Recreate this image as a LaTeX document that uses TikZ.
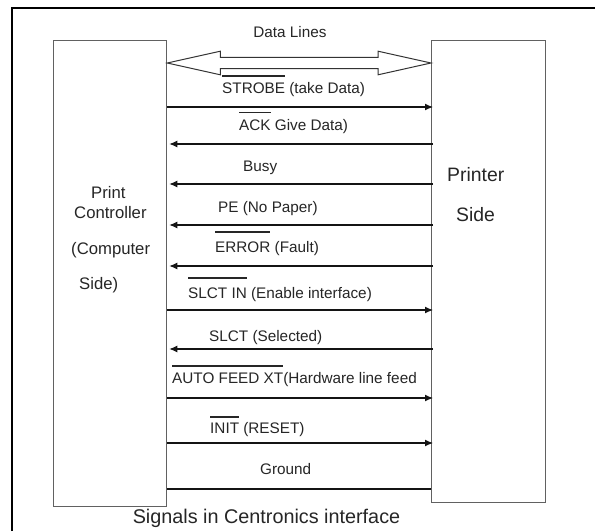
\documentclass[tikz,border=0pt]{standalone}
\usepackage{fontspec}
\setmainfont{Liberation Sans}
\usetikzlibrary{arrows.meta}
% overlined (active-low) signal name; optional argument: height of the bar above the baseline
\newcommand{\ovl}[2][17pt]{\leavevmode\setbox0\hbox{#2}\rlap{\rule[#1]{\wd0}{1.3pt}}\box0\relax}
\begin{document}
\begin{tikzpicture}[x=1pt,y=-1pt,
  every node/.style={inner sep=0pt, text=black!85},
  sidebox/.style={draw=black!62, line width=1.3pt, fill=white, anchor=north west},
  sig/.style={draw=black!92, line width=1.1pt},
  fwd/.style={sig, -{Latex[length=8pt,width=7pt]}, shorten >=-2pt},
  bwd/.style={sig, -{Latex[length=8pt,width=7pt]}, shorten >=2pt, shorten <=-2pt},
  lbl/.style={anchor=base west, font=\fontsize{15.3}{18}\selectfont},
  big/.style={anchor=base west, font=\fontsize{16.7}{20}\selectfont},
  huge/.style={anchor=base west, font=\fontsize{19.4}{23}\selectfont}]
\useasboundingbox (0,0) rectangle (595,531);
\fill[white] (0,0) rectangle (595,531);

% outer frame (top and left edges)
\draw[line width=2.6pt, black] (12,531) -- (12,8) -- (595,8);

% the two sides of the interface
\node[sidebox, minimum width=113pt, minimum height=466pt] (pc) at (53,40) {};
\node[sidebox, minimum width=114pt, minimum height=462pt] (ps) at (431,40) {};

\node[big] at (91,198) {Print};
\node[big] at (74,218) {Controller};
\node[big] at (71,254) {(Computer};
\node[big] at (79,289) {Side)};
\node[huge] at (447,181) {Printer};
\node[huge] at (456,221) {Side};

% bidirectional data bus (hollow double-headed arrow)
\coordinate (dl) at (pc.east |- 0,63);
\coordinate (dr) at (ps.west |- 0,63);
\draw[draw=black!80, line width=1pt, fill=white]
  (dl) -- ++(53,-11.8) -- ++(0,6.1) -- ([xshift=-53pt,yshift=5.7pt]dr)
  -- ++(0,-6.1) -- (dr) -- ++(-53,11.8) -- ++(0,-6.1)
  -- ([xshift=53pt,yshift=-5.7pt]dl) -- ++(0,6.1) -- cycle;
\node[lbl, anchor=base] at (290,37.5) {Data Lines};

% control and status lines
\foreach \y/\nm in {107/s1,144/s2,184/s3,225/s4,266/s5,310/s6,349/s7,398/s8,443/s9,489/s10}
  \coordinate (\nm) at (0,\y);

\draw[fwd] (pc.east |- s1) -- (ps.west |- s1);
\node[lbl] at (222,93.5) {\ovl{STROBE} (take Data)};

\draw[bwd] (ps.west |- s2) -- (pc.east |- s2);
\node[lbl] at (239,130) {\ovl{ACK} Give Data)};

\draw[bwd] (ps.west |- s3) -- (pc.east |- s3);
\node[lbl] at (243,171.5) {Busy};

\draw[bwd] (ps.west |- s4) -- (pc.east |- s4);
\node[lbl] at (218,212.5) {PE (No Paper)};

\draw[bwd] (ps.west |- s5) -- (pc.east |- s5);
\node[lbl] at (215,252.5) {\ovl[20pt]{ERROR} (Fault)};

\draw[fwd] (pc.east |- s6) -- (ps.west |- s6);
\node[lbl] at (188,298.5) {\ovl[20pt]{SLCT IN} (Enable interface)};

\draw[bwd] (ps.west |- s7) -- (pc.east |- s7);
\node[lbl] at (209,341.5) {SLCT (Selected)};

\draw[fwd] (pc.east |- s8) -- (ps.west |- s8);
\node[lbl] at (172,383.5) {\ovl{AUTO FEED XT}(Hardware line feed};

\draw[fwd] (pc.east |- s9) -- (ps.west |- s9);
\node[lbl] at (210,433.5) {\ovl[16pt]{INIT} (RESET)};

\draw[sig] (pc.east |- s10) -- (ps.west |- s10);
\node[lbl] at (260,474.5) {Ground};

\node[anchor=base, font=\fontsize{19.8}{24}\selectfont] at (266.5,523)
  {Signals in Centronics interface};
\end{tikzpicture}
\end{document}
